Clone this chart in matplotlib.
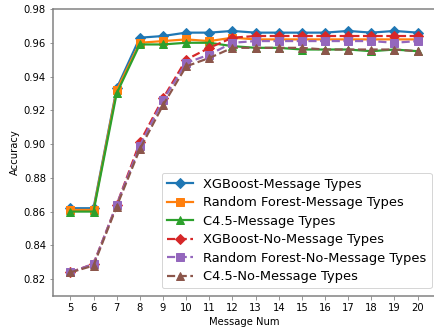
import matplotlib
matplotlib.use("Agg")
import matplotlib.pyplot as plt

# Data
msg_num = [5, 6, 7, 8, 9, 10, 11, 12, 13, 14, 15, 16, 17, 18, 19, 20]

xgb_mt = [0.862, 0.862, 0.933, 0.963, 0.964, 0.966, 0.966, 0.967, 0.966, 0.966,
          0.966, 0.966, 0.967, 0.966, 0.967, 0.966]
rf_mt = [0.861, 0.861, 0.932, 0.960, 0.961, 0.962, 0.961, 0.963, 0.962, 0.962,
         0.962, 0.962, 0.962, 0.962, 0.962, 0.962]
c45_mt = [0.860, 0.860, 0.930, 0.959, 0.959, 0.960, 0.960, 0.958, 0.957, 0.957,
          0.956, 0.956, 0.956, 0.955, 0.956, 0.955]
xgb_nomt = [0.824, 0.829, 0.864, 0.901, 0.927, 0.950, 0.957, 0.963, 0.964, 0.964,
            0.964, 0.964, 0.964, 0.964, 0.964, 0.964]
rf_nomt = [0.824, 0.829, 0.864, 0.899, 0.926, 0.948, 0.953, 0.960, 0.961, 0.961,
           0.961, 0.961, 0.961, 0.961, 0.960, 0.961]
c45_nomt = [0.824, 0.828, 0.863, 0.897, 0.923, 0.946, 0.951, 0.957, 0.957, 0.957,
            0.957, 0.956, 0.956, 0.956, 0.956, 0.955]

fig = plt.figure(figsize=(434 / 72, 333 / 72), dpi=72)
ax = fig.add_axes([53 / 434, 37 / 333, 382 / 434, 287 / 333])

lw = 2.2
ms = 7.5
ax.plot(msg_num, xgb_mt, marker="D", lw=lw, ms=ms, color="tab:blue", label="XGBoost-Message Types")
ax.plot(msg_num, rf_mt, marker="s", lw=lw, ms=ms, color="tab:orange", label="Random Forest-Message Types")
ax.plot(msg_num, c45_mt, marker="^", lw=lw, ms=ms + 1, color="tab:green", label="C4.5-Message Types")
ax.plot(msg_num, xgb_nomt, marker="D", ls="--", lw=lw, ms=ms, color="tab:red", label="XGBoost-No-Message Types")
ax.plot(msg_num, rf_nomt, marker="s", ls="--", lw=lw, ms=ms, color="tab:purple", label="Random Forest-No-Message Types")
ax.plot(msg_num, c45_nomt, marker="^", ls="--", lw=lw, ms=ms + 1, color="tab:brown", label="C4.5-No-Message Types")

ax.set_ylim(0.81, 0.98)
ax.set_xticks(msg_num)
ax.set_xlabel("Message Num", fontsize=10)
ax.set_ylabel("Accuracy", fontsize=10)
ax.tick_params(labelsize=10, color="gray")
for side in ax.spines.values():
    side.set_color("gray")
    side.set_linewidth(1.5)

ax.legend(loc="lower right", fontsize=13, labelspacing=0.42,
          bbox_to_anchor=(1.008, 0.004))

fig.savefig("out.png", dpi=72)
